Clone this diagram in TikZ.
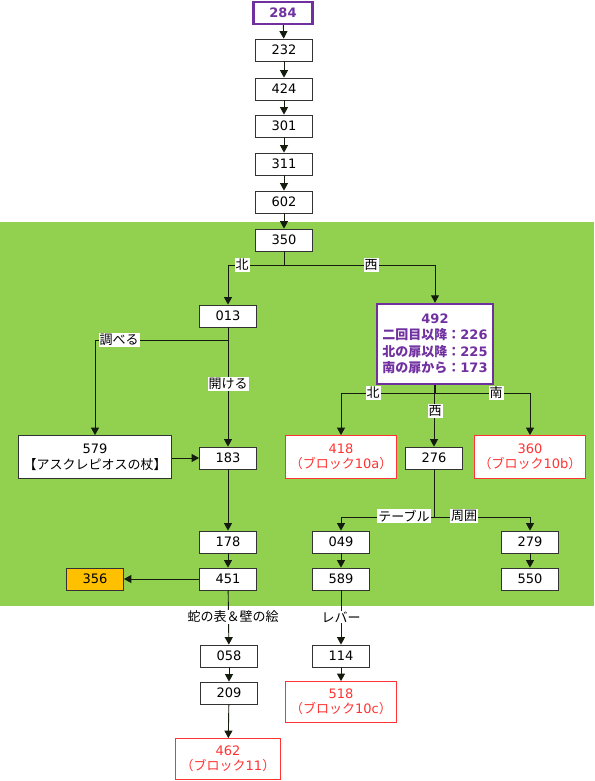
\documentclass[tikz,border=0pt]{standalone}
\usepackage{fontspec}
\setmainfont{DejaVu Sans}
\newfontfamily\jp{Noto Sans CJK JP}
\usetikzlibrary{arrows.meta}
\definecolor{grn}{HTML}{92D050}
\definecolor{purp}{HTML}{7030A0}
\definecolor{rd}{HTML}{FF3333}
\definecolor{org}{HTML}{FFC000}
\definecolor{ln}{HTML}{141C0E}
\tikzset{
  box/.style={draw=black!80, fill=white, line width=0.8pt, minimum width=57pt, minimum height=22pt, inner sep=0pt, align=center, font=\fontsize{13}{15.5}\selectfont},
  redbox/.style={box, draw=rd, text=rd, minimum width=111pt, minimum height=43pt},
  purpbox/.style={box, draw=purp, text=purp, line width=2.4pt, font=\fontsize{13}{16.5}\selectfont\bfseries},
  orgbox/.style={box, fill=org},
  arr/.style={draw=ln, line width=0.9pt, -{Triangle[width=8pt,length=7.5pt]}},
  ln/.style={draw=ln, line width=0.9pt},
  lbl/.style={fill=white, inner sep=1pt, font=\jp\fontsize{13}{15}\selectfont},
}
\begin{document}
\begin{tikzpicture}[x=1pt,y=-1pt]
\useasboundingbox (0,0) rectangle (594,781);
\fill[grn] (0,222) rectangle (594,606);
% top chain
\node[purpbox, minimum width=59pt] (n284) at (283,13) {284};
\node[box] (n232) at (284,50) {232};
\node[box] (n424) at (284,89) {424};
\node[box] (n301) at (284,126) {301};
\node[box] (n311) at (284,164) {311};
\node[box] (n602) at (284,202) {602};
\node[box] (n350) at (284,240) {350};
\node[box] (n013) at (228,316) {013};
\node[purpbox, minimum width=116pt, minimum height=80pt] (n492) at (435,344)
  {492\\{\jp 二回目以降：}226\\{\jp 北の扉以降：}225\\{\jp 南の扉から：}173};
\node[box, minimum width=153pt, minimum height=43pt] (n579) at (95,457) {579\\{\jp 【アスクレピオスの杖】}};
\node[box] (n183) at (228,458) {183};
\node[redbox] (n418) at (341,457) {418\\{\jp （ブロック}10a{\jp ）}};
\node[box] (n276) at (434,458) {276};
\node[redbox] (n360) at (530,457) {360\\{\jp （ブロック}10b{\jp ）}};
\node[box] (n178) at (228,542) {178};
\node[box] (n451) at (228,579) {451};
\node[orgbox] (n356) at (95,579) {356};
\node[box] (n049) at (341,542) {049};
\node[box] (n589) at (341,579) {589};
\node[box] (n279) at (530,542) {279};
\node[box] (n550) at (530,579) {550};
\node[box] (n058) at (229,656) {058};
\node[box] (n209) at (229,693) {209};
\node[redbox, minimum width=105pt, minimum height=41pt] (n462) at (228,759) {462\\{\jp （ブロック}11{\jp ）}};
\node[box] (n114) at (341,656) {114};
\node[redbox, minimum height=41pt] (n518) at (341,702) {518\\{\jp （ブロック}10c{\jp ）}};
% coordinates
\coordinate (b350) at (284,265);
\coordinate (b013) at (228,340);
\coordinate (b492) at (435,393);
\coordinate (b276) at (434,517);
% connectors
\draw[arr] (n284) -- (n232);
\draw[arr] (n232) -- (n424);
\draw[arr] (n424) -- (n301);
\draw[arr] (n301) -- (n311);
\draw[arr] (n311) -- (n602);
\draw[arr] (n602) -- (n350);
\draw[ln] (n350) -- (b350);
\draw[arr] (b350) -| (n013);
\draw[arr] (b350) -| (n492);
\draw[arr] (n013) -- (n183);
\draw[arr] (b013) -| (n579);
\draw[arr] (n579.east |- n183) -- (n183);
\draw[arr] (n183) -- (n178);
\draw[arr] (n178) -- (n451);
\draw[arr] (n451) -- (n356);
\draw[arr] (n451) -- (n058);
\draw[arr] (n058) -- (n209);
\draw[arr] (n209) -- (n462);
\draw[ln] (n492) -- (b492);
\draw[arr] (b492) -| (n418);
\draw[arr] (b492) -| (n360);
\draw[arr] (n492.south -| n276) -- (n276);
\draw[ln] (n276) -- (b276);
\draw[arr] (b276) -| (n049);
\draw[arr] (b276) -| (n279);
\draw[arr] (n049) -- (n589);
\draw[arr] (n279) -- (n550);
\draw[arr] (n589) -- (n114);
\draw[arr] (n114) -- (n518);
% labels
\node[lbl] (l1) at (242,265) {北};
\node[lbl] (l2) at (371,265) {西};
\node[lbl] (l3) at (119,340) {調べる};
\node[lbl] (l4) at (228,384) {開ける};
\node[lbl] (l5) at (373,393) {北};
\node[lbl] (l6) at (496,393) {南};
\node[lbl] (l7) at (435,411) {西};
\node[lbl] (l8) at (404,516) {テーブル};
\node[lbl] (l9) at (464,516) {周囲};
\node[lbl] (l10) at (233,617) {蛇の表＆壁の絵};
\node[lbl] (l11) at (341,617) {レバー};
\end{tikzpicture}
\end{document}
